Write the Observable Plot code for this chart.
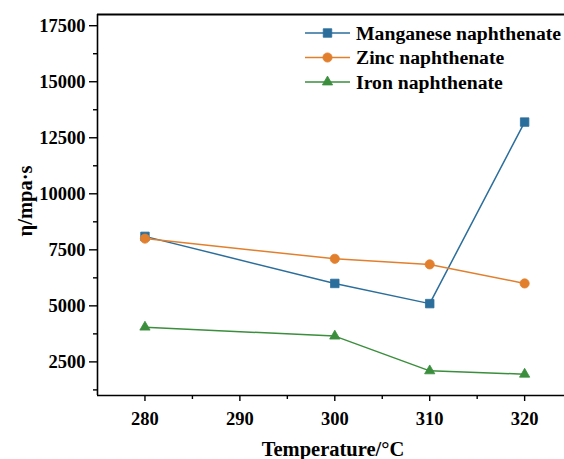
<!DOCTYPE html>
<html>
<head>
<meta charset="utf-8">
<script src="https://cdn.jsdelivr.net/npm/d3@7"></script>
<script src="https://cdn.jsdelivr.net/npm/@observablehq/plot@0.6"></script>
<style>
  html, body { margin: 0; padding: 0; background: #fff; }
</style>
</head>
<body>
<div id="chart"></div>
<script>
const temps = [280, 300, 310, 320];
const manganese = [8100, 6000, 5100, 13200];
const zinc = [8000, 7100, 6850, 6000];
const iron = [4050, 3650, 2100, 1950];
const seriesNames = ["Manganese naphthenate", "Zinc naphthenate", "Iron naphthenate"];
const seriesColors = ["#2b6e9c", "#e27f2d", "#3a8e3c"];
const seriesSymbols = ["square", "circle", "triangle"];
const seriesR = [4.8, 4.6, 3.8];
const xTicks = [280, 290, 300, 310, 320];
const xMinor = [285, 295, 305, 315];
const yTicks = [2500, 5000, 7500, 10000, 12500, 15000, 17500];
const yMinor = [1250, 3750, 6250, 8750, 11250, 13750, 16250];
const xLabel = "Temperature/°C";
const yLabel = "η/mpa·s";

const allSeries = [manganese, zinc, iron];
const rows = [];
allSeries.forEach((vals, i) => vals.forEach((v, j) => rows.push({series: seriesNames[i], t: temps[j], v})));

const font = "Liberation Serif";
const marks = [];
// frame lines
marks.push(Plot.ruleX([275], {stroke: "#000", strokeWidth: 1.6}));
marks.push(Plot.ruleY([1000], {stroke: "#000", strokeWidth: 1.6}));
marks.push(Plot.ruleY([18000], {stroke: "#000", strokeWidth: 2.2}));
// axes
marks.push(Plot.axisX(xTicks, {tickSize: 6, tickPadding: 10, fontSize: 18.5, fontWeight: "bold", fontFamily: font, fill: "#000", stroke: "#000", strokeWidth: 1.4, label: null}));
marks.push(Plot.axisX(xMinor, {tickSize: 4, text: null, stroke: "#000", strokeWidth: 1.4, label: null}));
marks.push(Plot.axisY(yTicks, {tickSize: 8, tickPadding: 4, fontSize: 18.5, fontWeight: "bold", fontFamily: font, fill: "#000", stroke: "#000", strokeWidth: 1.4, label: null, tickFormat: d => String(d)}));
marks.push(Plot.axisY(yMinor, {tickSize: 4, text: null, stroke: "#000", strokeWidth: 1.4, label: null}));
// data
seriesNames.forEach((name, i) => {
  const d = rows.filter(r => r.series === name);
  marks.push(Plot.line(d, {x: "t", y: "v", stroke: seriesColors[i], strokeWidth: 1.5}));
  marks.push(Plot.dot(d, {x: "t", y: "v", symbol: () => seriesSymbols[i], r: seriesR[i], fill: seriesColors[i], stroke: seriesColors[i], strokeWidth: 0.8}));
});

const chart = Plot.plot({
  width: 564,
  height: 459,
  marginLeft: 97,
  marginRight: 0,
  marginTop: 14,
  marginBottom: 64,
  style: {fontFamily: font, background: "#fff", overflow: "visible"},
  x: {domain: [275, 324.2], label: null},
  y: {domain: [1000, 18000], label: null},
  marks
});
document.getElementById("chart").appendChild(chart);

// axis titles and legend
const svg = d3.select(chart);
function addText(sel, size) {
  return sel.append("text").attr("font-size", size).attr("font-weight", "bold")
    .attr("font-family", font).attr("fill", "#000");
}
addText(svg, 20.5).attr("x", 333).attr("y", 456).attr("text-anchor", "middle").text(xLabel);
addText(svg, 20.5).attr("transform", "translate(32,201) rotate(-90)").attr("text-anchor", "middle").text(yLabel);

const legend = svg.append("g");
const symGen = {square: d3.symbolSquare, circle: d3.symbolCircle, triangle: d3.symbolTriangle};
seriesNames.forEach((name, i) => {
  const y = 33 + i * 24.5;
  legend.append("line").attr("x1", 305).attr("x2", 350).attr("y1", y).attr("y2", y)
    .attr("stroke", seriesColors[i]).attr("stroke-width", 1.5);
  const r = seriesR[i];
  legend.append("path").attr("transform", `translate(327.5,${y})`)
    .attr("d", d3.symbol(symGen[seriesSymbols[i]], Math.PI * r * r)())
    .attr("fill", seriesColors[i]).attr("stroke", seriesColors[i]).attr("stroke-width", 0.8);
  addText(legend, 19.7).attr("x", 356).attr("y", y).attr("dy", "0.35em").attr("text-anchor", "start").text(name);
});
</script>
</body>
</html>
